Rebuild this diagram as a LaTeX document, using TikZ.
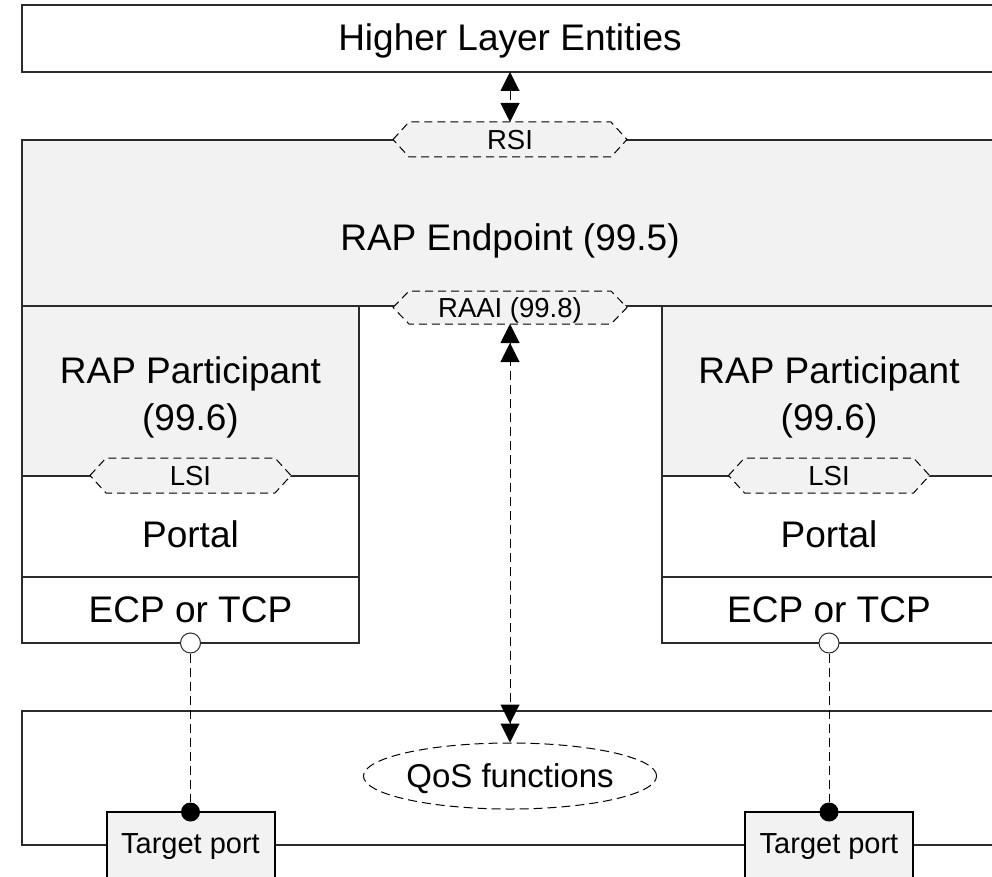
\documentclass[tikz,border=0pt]{standalone}
\usepackage{fontspec}
\setmainfont{Liberation Sans}
\usetikzlibrary{arrows.meta,shapes.geometric}

\definecolor{panel}{HTML}{F2F2F2}
\definecolor{rule}{HTML}{2B2B2B}

% Dashed interface hexagon: centre x, centre y, half width, half height
\newcommand\ifaceshape[4]{%
  \path[ifacefill] (#1-#3,#2) -- (#1-#3+16,#2-#4) -- (#1+#3-16,#2-#4)
    -- (#1+#3,#2) -- (#1+#3-16,#2+#4) -- (#1-#3+16,#2+#4) -- cycle;}

\tikzset{
  layerbox/.style={draw=rule, line width=1.2pt, inner sep=0pt, outer sep=0pt, anchor=north west},
  biglabel/.style={font=\fontsize{37}{44}\selectfont, inner sep=0pt, anchor=base},
  ifacefill/.style={draw=black, fill=panel, line width=1pt, dash pattern=on 8pt off 5pt},
  ifacelabel/.style={font=\fontsize{27.5}{32}\selectfont, inner sep=0pt, outer sep=0pt,
    text height=19.6pt, text depth=0pt, minimum height=#1},
  link/.style={draw=black, line width=1pt, dash pattern=on 9pt off 5pt},
  bighead/.tip={Triangle[length=19pt,width=19pt]},
  tport/.style={draw=black, fill=panel, line width=2pt, inner sep=0pt, outer sep=0pt,
    anchor=north west, minimum width=168pt, minimum height=100pt},
  portlabel/.style={font=\fontsize{29}{34}\selectfont, inner sep=0pt, anchor=base},
  opensocket/.style={circle, draw=rule, fill=white, line width=1pt, minimum size=20pt, inner sep=0pt},
  plug/.style={circle, fill=black, minimum size=19pt, inner sep=0pt},
  qosfn/.style={ellipse, draw=black, line width=1pt, dash pattern=on 9pt off 5pt,
    minimum width=270pt, minimum height=66pt, inner sep=0pt,
    font=\fontsize{33}{40}\selectfont, text height=23.6pt, text depth=0pt}
}

\begin{document}
\begin{tikzpicture}[x=1pt,y=-1pt]
\clip (0,0) rectangle (992,877);

% layer boxes
\node[layerbox, fill=white, minimum width=976pt, minimum height=67pt] (hle) at (22,5) {};
\node[layerbox, fill=panel, minimum width=976pt, minimum height=166pt] (rapep) at (22,140) {};

\node[layerbox, fill=panel, minimum width=337pt, minimum height=170pt] (partL) at (22,306) {};
\node[layerbox, fill=white, minimum width=337pt, minimum height=101pt] (portL) at (22,476) {};
\node[layerbox, fill=white, minimum width=337pt, minimum height=66pt] (ecpL) at (22,577) {};

\node[layerbox, fill=panel, minimum width=334pt, minimum height=170pt] (partR) at (662,306) {};
\node[layerbox, fill=white, minimum width=334pt, minimum height=101pt] (portR) at (662,476) {};
\node[layerbox, fill=white, minimum width=334pt, minimum height=66pt] (ecpR) at (662,577) {};

\node[layerbox, fill=white, minimum width=990pt, minimum height=134pt] (bridge) at (22,711) {};

% service interfaces
\ifaceshape{510}{139.5}{117}{17.5}
\ifaceshape{510}{307.5}{117}{16.5}
\ifaceshape{190.5}{475.5}{100.5}{17.5}
\ifaceshape{829}{475.5}{100.5}{17.5}

\node[ifacelabel=35pt] (rsi) at (510,139.5) {RSI};
\node[ifacelabel=33pt] (raai) at (510,307.5) {RAAI (99.8)};
\node[ifacelabel=35pt] (lsiL) at (190.5,475.5) {LSI};
\node[ifacelabel=35pt] (lsiR) at (829,475.5) {LSI};

% layer names
\node[biglabel] (hleT) at (510,51) {Higher Layer Entities};
\node[biglabel] (rapepT) at (510,251) {RAP Endpoint (99.5)};

\node[biglabel] (partLa) at (190.5,383) {RAP Participant};
\node[biglabel] (partLb) at (190.5,430) {(99.6)};
\node[biglabel] (portLT) at (190.5,547) {Portal};
\node[biglabel] (ecpLT) at (190.5,622) {ECP or TCP};

\node[biglabel] (partRa) at (829,383) {RAP Participant};
\node[biglabel] (partRb) at (829,430) {(99.6)};
\node[biglabel] (portRT) at (829,547) {Portal};
\node[biglabel] (ecpRT) at (829,622) {ECP or TCP};

% bridge internals
\node[qosfn] (qos) at (510,776) {QoS functions};

\node[tport] (tpL) at (106.5,812) {};
\node[tport] (tpR) at (745,812) {};
\node[portlabel] (tpLT) at (190.5,853) {Target port};
\node[portlabel] (tpRT) at (829,853) {Target port};

\node[opensocket] (sockL) at (190.5,643) {};
\node[opensocket] (sockR) at (829,643) {};
\node[plug] (plugL) at (190.5,812) {};
\node[plug] (plugR) at (829,812) {};

% connectors
\draw[link] (sockL) -- (plugL);
\draw[link] (sockR) -- (plugR);
\draw[link, {bighead[]}-{bighead[]}] (hle.south) -- (rsi.north);
\draw[link, {bighead[]bighead[]}-{bighead[]bighead[]}] (raai.south) -- (qos.north);
\end{tikzpicture}
\end{document}
